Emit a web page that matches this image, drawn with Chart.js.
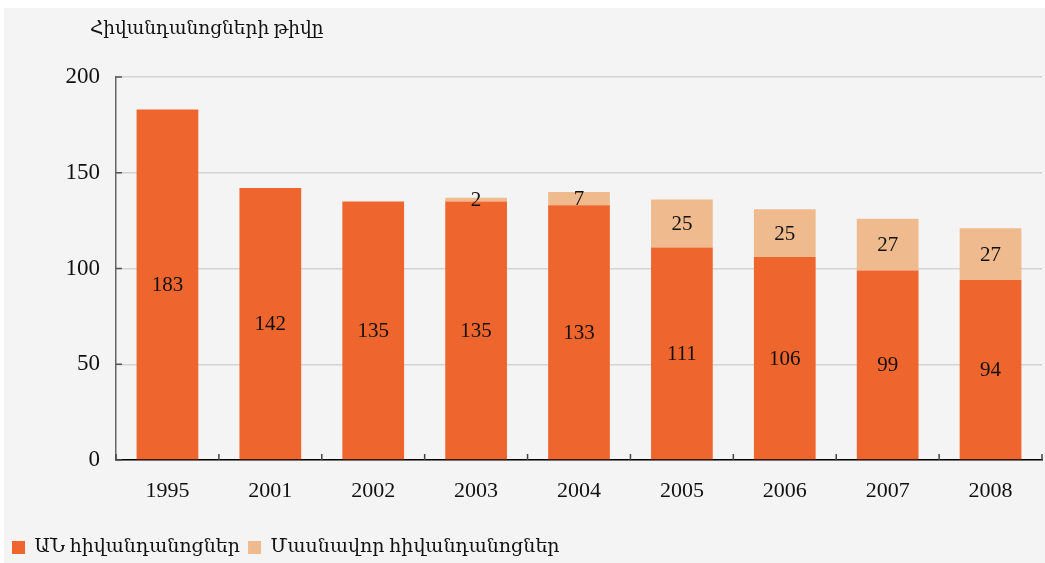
<!DOCTYPE html>
<html>
<head>
<meta charset="utf-8">
<script src="https://cdn.jsdelivr.net/npm/chart.js@4.4.1/dist/chart.umd.min.js"></script>
<style>
  html, body { margin: 0; padding: 0; background: #fff; }
  .panel { position: absolute; left: 4px; top: 8px; width: 1041px; height: 555px; background: #f4f4f4; }
  canvas { display: block; }
</style>
</head>
<body>
<div class="panel"><canvas id="chart" width="1041" height="555"></canvas></div>
<script>
// data
const years = ["1995", "2001", "2002", "2003", "2004", "2005", "2006", "2007", "2008"];
const stateHospitals = [183, 142, 135, 135, 133, 111, 106, 99, 94];
const privateHospitals = [null, null, null, 2, 7, 25, 25, 27, 27];
const seriesNames = ["ԱՆ հիվանդանոցներ", "Մասնավոր հիվանդանոցներ"];
const axisTitle = "Հիվանդանոցների թիվը";

const serif = "'Liberation Serif', 'DejaVu Serif', serif";

Chart.defaults.font.family = serif;
Chart.defaults.color = "#111";

// numbers in the middle of each segment
const barLabels = {
  id: "barLabels",
  afterDatasetsDraw(chart) {
    const ctx = chart.ctx;
    ctx.save();
    ctx.font = "21px " + serif;
    ctx.fillStyle = "#111";
    ctx.textAlign = "center";
    ctx.textBaseline = "middle";
    chart.data.datasets.forEach((ds, i) => {
      chart.getDatasetMeta(i).data.forEach((bar, j) => {
        const v = ds.data[j];
        if (v == null) return;
        ctx.fillText(String(v), bar.x, (bar.y + bar.base) / 2 + 1);
      });
    });
    ctx.restore();
  },
};

// axis title above the y axis + inward tick marks
const extras = {
  id: "extras",
  afterDraw(chart) {
    const ctx = chart.ctx;
    const area = chart.chartArea;
    const x = chart.scales.x;
    const y = chart.scales.y;
    ctx.save();
    ctx.font = "18.5px " + serif;
    ctx.fillStyle = "#111";
    ctx.textBaseline = "middle";
    ctx.fillText(axisTitle, area.left - 26, area.top - 48);

    ctx.lineWidth = 1.5;
    ctx.strokeStyle = "#555";
    y.ticks.forEach((t) => {
      const py = y.getPixelForValue(t.value);
      ctx.beginPath();
      ctx.moveTo(area.left, py);
      ctx.lineTo(area.left + 6, py);
      ctx.stroke();
    });
    ctx.strokeStyle = "#444";
    for (let i = 0; i <= years.length; i++) {
      let px;
      if (i === 0) px = area.left;
      else if (i === years.length) px = area.right;
      else px = (x.getPixelForValue(i - 1) + x.getPixelForValue(i)) / 2;
      ctx.beginPath();
      ctx.moveTo(px, area.bottom);
      ctx.lineTo(px, area.bottom - 6);
      ctx.stroke();
    }
    ctx.restore();
  },
};

new Chart(document.getElementById("chart"), {
  type: "bar",
  data: {
    labels: years,
    datasets: [
      {
        label: seriesNames[0],
        data: stateHospitals,
        backgroundColor: "#ef652e",
        categoryPercentage: 1,
        barPercentage: 0.6,
      },
      {
        label: seriesNames[1],
        data: privateHospitals,
        backgroundColor: "#efbb8e",
        categoryPercentage: 1,
        barPercentage: 0.6,
      },
    ],
  },
  options: {
    responsive: false,
    animation: false,
    layout: { padding: { top: 69, right: 3, left: 0, bottom: -4 } },
    plugins: {
      tooltip: { enabled: false },
      legend: {
        position: "bottom",
        align: "start",
        labels: {
          boxWidth: 13,
          boxHeight: 13,
          padding: 8,
          font: { size: 19, family: serif },
          color: "#111",
        },
      },
    },
    scales: {
      x: {
        stacked: true,
        grid: { display: true, drawOnChartArea: false, drawTicks: false },
        border: { color: "#000", width: 1.5 },
        ticks: { padding: 18, font: { size: 22 }, color: "#111" },
        afterFit(scale) {
          scale.height = 70;
        },
      },
      y: {
        stacked: true,
        min: 0,
        max: 200,
        grid: { color: "#d3d3d3", lineWidth: 1.5, drawTicks: false },
        border: { color: "#666", width: 1.5 },
        ticks: { stepSize: 50, padding: 16, font: { size: 23 }, color: "#111" },
        afterFit(scale) {
          scale.width = 112;
        },
      },
    },
  },
  plugins: [barLabels, extras],
});
</script>
</body>
</html>
